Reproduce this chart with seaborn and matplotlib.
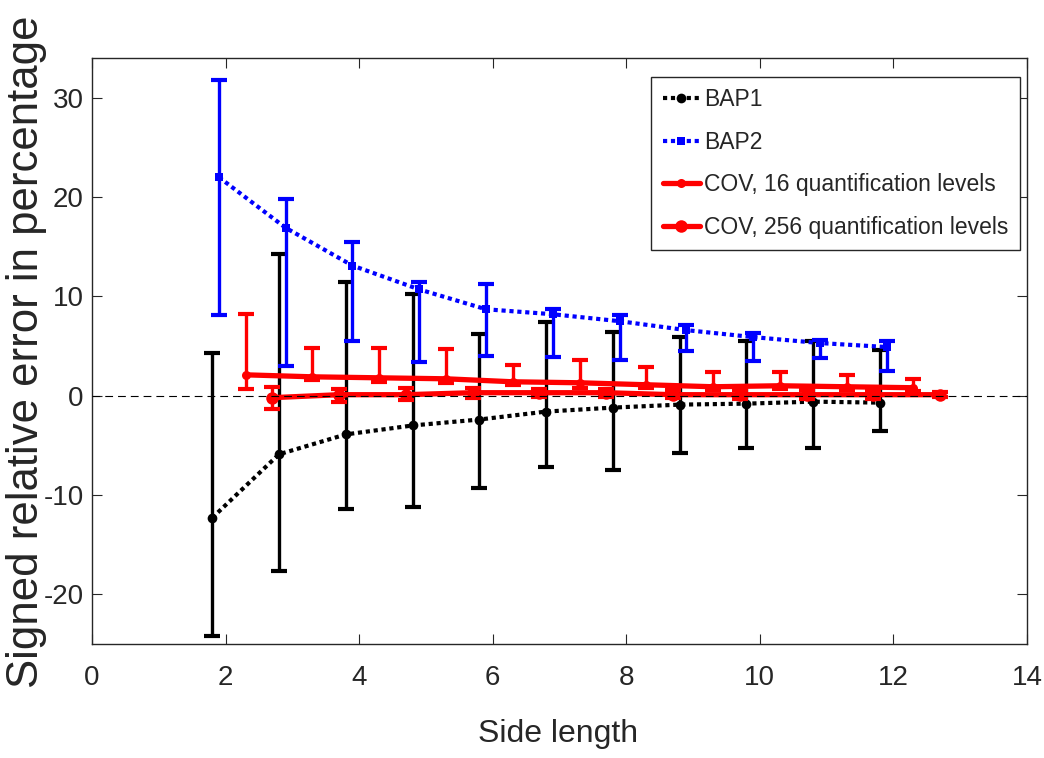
import numpy as np
import pandas as pd
import seaborn as sns
import matplotlib
matplotlib.use("Agg")
import matplotlib.pyplot as plt

# side lengths 2..12, each series is shifted a little so bars don't overlap
sides = np.arange(2, 13)
bap1_x = sides - 0.2
bap2_x = sides - 0.1
cov16_x = sides + 0.3
cov256_x = sides + 0.7

bap1_mean = [-12.3, -5.9, -3.9, -3.0, -2.4, -1.6, -1.2, -0.9, -0.8, -0.6, -0.7]
bap1_hi = [4.3, 14.3, 11.4, 10.2, 6.2, 7.4, 6.4, 5.9, 5.5, 5.5, 4.6]
bap1_lo = [-24.2, -17.7, -11.4, -11.2, -9.3, -7.2, -7.5, -5.8, -5.3, -5.3, -3.6]

bap2_mean = [22.0, 16.9, 13.1, 10.7, 8.7, 8.2, 7.5, 6.6, 5.9, 5.3, 4.9]
bap2_hi = [31.8, 19.8, 15.5, 11.4, 11.2, 8.7, 8.1, 7.1, 6.3, 5.6, 5.5]
bap2_lo = [8.1, 3.0, 5.5, 3.4, 4.0, 3.9, 3.6, 4.5, 3.5, 3.8, 2.5]

cov16_mean = [2.1, 1.9, 1.8, 1.7, 1.4, 1.3, 1.1, 0.9, 1.0, 0.9, 0.8]
cov16_hi = [8.2, 4.8, 4.8, 4.7, 3.1, 3.6, 2.9, 2.4, 2.4, 2.1, 1.7]
cov16_lo = [0.7, 1.6, 1.4, 1.3, 1.1, 0.8, 0.8, 0.6, 0.7, 0.6, 0.5]

cov256_mean = [-0.2, 0.1, 0.1, 0.3, 0.3, 0.3, 0.1, 0.1, 0.1, 0.1, 0.1]
cov256_hi = [0.9, 0.7, 0.8, 0.8, 0.7, 0.7, 0.6, 0.6, 0.6, 0.5, 0.4]
cov256_lo = [-1.3, -0.6, -0.4, -0.2, -0.1, -0.1, -0.2, -0.3, -0.3, -0.3, -0.1]

labels = ["BAP1", "BAP2", "COV, 16 quantification levels", "COV, 256 quantification levels"]

sns.set_theme(style="ticks")
plt.rcParams['font.family'] = ['Liberation Sans', 'DejaVu Sans']
plt.rcParams['text.color'] = '#262626'
plt.rcParams['axes.labelcolor'] = '#262626'
plt.rcParams['axes.unicode_minus'] = False

fig = plt.figure(figsize=(10.44, 7.58), dpi=100)
ax = fig.add_axes([0.0881, 0.1504, 0.8956, 0.7731])

series = [
    (bap1_x, bap1_mean, bap1_lo, bap1_hi, dict(color='black', ls=(0, (1, 0.9)), lw=3, marker='o', ms=7)),
    (bap2_x, bap2_mean, bap2_lo, bap2_hi, dict(color='#0000ff', ls=(0, (1, 0.9)), lw=3, marker='s', ms=6)),
    (cov16_x, cov16_mean, cov16_lo, cov16_hi, dict(color='#ff0000', ls='-', lw=3.8, marker='o', ms=6.5)),
    (cov256_x, cov256_mean, cov256_lo, cov256_hi, dict(color='#ff0000', ls='-', lw=3.8, marker='o', ms=9)),
]

for (x, m, lo, hi, kw), lab in zip(series, labels):
    df = pd.DataFrame({'x': x, 'y': m})
    m = np.array(m)
    yerr = [m - np.array(lo), np.array(hi) - m]
    ax.errorbar(x, m, yerr=yerr, fmt='none', ecolor=kw['color'], elinewidth=2.4,
                capsize=6, capthick=3)
    sns.lineplot(data=df, x='x', y='y', ax=ax, label=lab, markeredgewidth=0,
                 dash_capstyle='butt', **kw)

ax.axhline(0, color='black', lw=0.8, dashes=(7, 4.5), zorder=10)

ax.set_xlim(0, 14)
ax.set_ylim(-25, 34)
ax.set_xticks(range(0, 15, 2))
ax.set_yticks([-20, -10, 0, 10, 20, 30])
ax.tick_params(direction='in', length=7, width=0.8, color='#262626', labelsize=20,
               labelcolor='#262626', top=True, right=True)
ax.tick_params(axis='x', pad=15)
ax.tick_params(axis='y', pad=6)
for sp in ax.spines.values():
    sp.set_color('#262626')
    sp.set_linewidth(1.0)

ax.set_xlabel("Side length", fontsize=23)
ax.set_ylabel("Signed relative error in percentage", fontsize=31.5)
ax.xaxis.set_label_coords(0.498, -0.128)
ax.yaxis.set_label_coords(-0.048, 0.498)

leg = ax.legend(loc='upper right', bbox_to_anchor=(0.9925, 0.9676), borderaxespad=0,
                fontsize=16.5, frameon=True, fancybox=False, framealpha=1,
                edgecolor='#262626', handlelength=1.6, handletextpad=0.2,
                labelspacing=0.85, borderpad=0.5)
leg.get_frame().set_linewidth(1.0)

fig.savefig("out.png", dpi=100)
